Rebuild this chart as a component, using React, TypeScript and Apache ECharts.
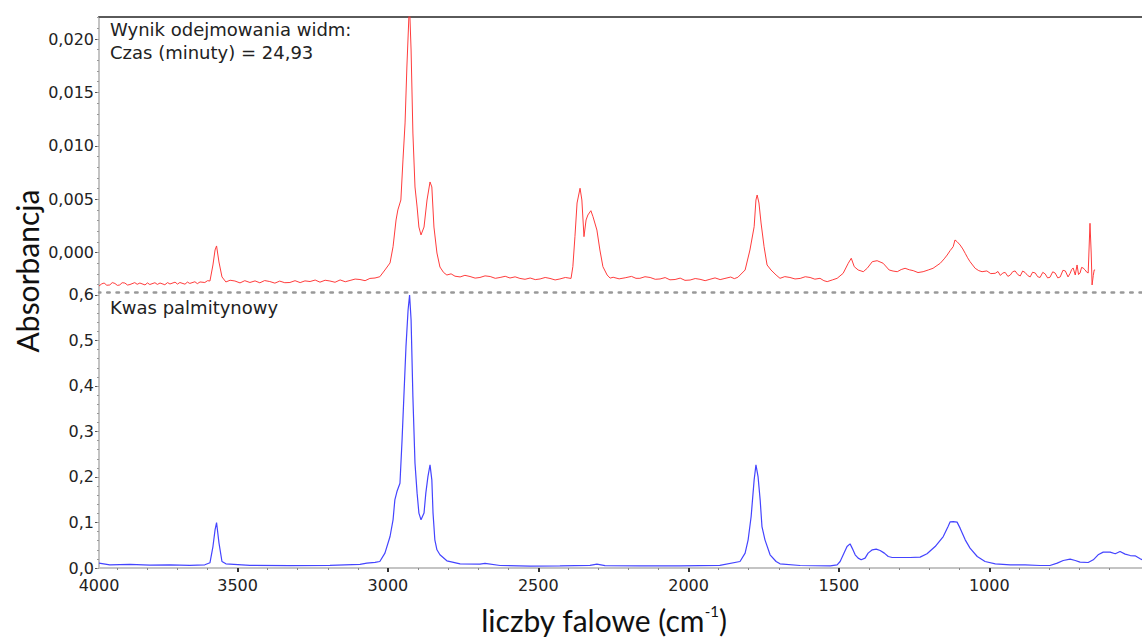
import { useEffect, useRef } from "react";
import * as echarts from "echarts";

// Wavenumber range shown (left edge labelled "4000" in the original), right edge
const X_LEFT = 3961;
const X_RIGHT = 492;
const X_EDGE_LABEL = "4000";
const xMajorTicks = [3500, 3000, 2500, 2000, 1500, 1000];

// Upper panel: subtraction result
const topYMin = -0.00368;
const topYMax = 0.02206;
const topYTicks = [0, 0.005, 0.01, 0.015, 0.02];

// Lower panel: palmitic acid
const botYMin = 0;
const botYMax = 0.6065;
const botYTicks = [0, 0.1, 0.2, 0.3, 0.4, 0.5, 0.6];

const redSpectrum: [number, number][] = [
  [3961, -0.00312], [3952, -0.00292], [3944, -0.00284], [3935, -0.00305], [3925, -0.00302],
  [3917, -0.0028], [3908, -0.00288], [3900, -0.00306], [3892, -0.00302], [3884, -0.00281],
  [3875, -0.00284], [3866, -0.00303], [3858, -0.00298], [3842, -0.0028], [3834, -0.00296],
  [3825, -0.00284], [3808, -0.00302], [3800, -0.00283], [3792, -0.00298], [3775, -0.00281],
  [3767, -0.00297], [3758, -0.00284], [3742, -0.003], [3733, -0.0028], [3725, -0.00293],
  [3708, -0.00276], [3700, -0.00294], [3692, -0.00279], [3675, -0.00295], [3667, -0.00275],
  [3659, -0.00288], [3642, -0.00272], [3634, -0.0029], [3625, -0.00274], [3609, -0.00279],
  [3600, -0.00262], [3592, -0.00265], [3582, -0.00115], [3575, 0.00025], [3570, 0.00063],
  [3562, -0.00087], [3552, -0.00227], [3539, -0.00274], [3525, -0.00258], [3509, -0.00265],
  [3492, -0.00283], [3476, -0.00262], [3459, -0.00279], [3442, -0.00264], [3426, -0.00282],
  [3410, -0.00261], [3393, -0.0027], [3376, -0.00285], [3360, -0.00266], [3343, -0.00281],
  [3326, -0.00279], [3309, -0.00262], [3292, -0.0028], [3276, -0.00264], [3259, -0.0027],
  [3242, -0.00256], [3226, -0.00276], [3209, -0.00258], [3193, -0.00265], [3176, -0.00277],
  [3159, -0.00255], [3142, -0.00272], [3126, -0.0026], [3109, -0.00247], [3093, -0.00251],
  [3076, -0.00262], [3060, -0.00241], [3043, -0.00237], [3027, -0.00225], [3010, -0.00162],
  [2993, -0.00096], [2983, 0.00056], [2973, 0.00306], [2967, 0.004], [2957, 0.00493],
  [2950, 0.00868], [2943, 0.01214], [2937, 0.01738], [2930, 0.0223], [2927, 0.0222],
  [2923, 0.01897], [2917, 0.0112], [2910, 0.00615], [2903, 0.00428], [2897, 0.0024],
  [2890, 0.00166], [2880, 0.0024], [2870, 0.00493], [2860, 0.00662], [2854, 0.00615],
  [2847, 0.0024], [2837, -0.00003], [2827, -0.00134], [2815, -0.00185], [2804, -0.00209],
  [2790, -0.00198], [2777, -0.0022], [2760, -0.00227], [2744, -0.00212], [2727, -0.00223],
  [2710, -0.00238], [2694, -0.00232], [2677, -0.00217], [2660, -0.00223], [2643, -0.0024],
  [2627, -0.00232], [2610, -0.00221], [2594, -0.00237], [2577, -0.00226], [2561, -0.00241],
  [2544, -0.00249], [2527, -0.00237], [2510, -0.00252], [2494, -0.00246], [2477, -0.00232],
  [2461, -0.00241], [2444, -0.00255], [2428, -0.00246], [2410, -0.00232], [2391, -0.00241],
  [2385, -0.00131], [2378, 0.0015], [2371, 0.00465], [2361, 0.00603], [2355, 0.00493],
  [2348, 0.0015], [2341, 0.00306], [2335, 0.00353], [2325, 0.00393], [2318, 0.00337],
  [2305, 0.00212], [2295, 0.00025], [2285, -0.00131], [2271, -0.00209], [2261, -0.00238],
  [2251, -0.0023], [2231, -0.00245], [2211, -0.00235], [2190, -0.00222], [2175, -0.0024],
  [2162, -0.0024], [2145, -0.00225], [2128, -0.00232], [2111, -0.00249], [2095, -0.00246],
  [2078, -0.00233], [2062, -0.00254], [2045, -0.00251], [2028, -0.00238], [2012, -0.00259],
  [1995, -0.00256], [1978, -0.00242], [1962, -0.00249], [1945, -0.00262], [1929, -0.00249],
  [1912, -0.00236], [1895, -0.00252], [1879, -0.00241], [1860, -0.00228], [1848, -0.00243],
  [1836, -0.0023], [1812, -0.00162], [1796, 0.00025], [1782, 0.00243], [1776, 0.00493],
  [1772, 0.0054], [1766, 0.00465], [1759, 0.00278], [1749, 0.00056], [1739, -0.00115],
  [1726, -0.00162], [1709, -0.00209], [1696, -0.0024], [1680, -0.00224], [1663, -0.00232],
  [1646, -0.00246], [1629, -0.00241], [1612, -0.00225], [1596, -0.00232], [1580, -0.00248],
  [1563, -0.0024], [1550, -0.00262], [1539, -0.00271], [1522, -0.00255], [1506, -0.0024],
  [1486, -0.00193], [1469, -0.00099], [1459, -0.00052], [1449, -0.00131], [1436, -0.00162],
  [1419, -0.00178], [1406, -0.00146], [1389, -0.00084], [1373, -0.00075], [1353, -0.00099],
  [1333, -0.00162], [1320, -0.00172], [1306, -0.00178], [1293, -0.00158], [1280, -0.00146],
  [1266, -0.0016], [1253, -0.00168], [1237, -0.00186], [1220, -0.00178], [1203, -0.00162],
  [1187, -0.00146], [1163, -0.00099], [1150, -0.00058], [1140, -0.00022], [1130, 0.0002],
  [1120, 0.00056], [1114, 0.00119], [1107, 0.00103], [1097, 0.00072], [1088, 0.00035],
  [1080, -0.00006], [1072, -0.00048], [1064, -0.00084], [1047, -0.00146], [1035, -0.00168],
  [1024, -0.00178], [1008, -0.00171], [995, -0.00196], [980, -0.00193], [971, -0.00176],
  [963, -0.00213], [955, -0.0019], [947, -0.00185], [938, -0.00222], [930, -0.00209],
  [922, -0.00178], [914, -0.00171], [905, -0.00205], [897, -0.00218], [889, -0.00172],
  [881, -0.00185], [872, -0.00214], [864, -0.00227], [856, -0.00183], [847, -0.0019],
  [839, -0.00225], [831, -0.00232], [822, -0.00184], [814, -0.00199], [806, -0.00236],
  [798, -0.0023], [789, -0.00179], [781, -0.0019], [772, -0.00236], [764, -0.00227],
  [755, -0.00165], [747, -0.00171], [738, -0.00227], [731, -0.00193], [726, -0.00158],
  [721, -0.00143], [714, -0.00209], [708, -0.00115], [703, -0.00205], [698, -0.0019],
  [693, -0.00138], [688, -0.00143], [681, -0.00162], [676, -0.00182], [671, -0.0019],
  [665, 0.00275], [661, -0.00003], [658, -0.00302], [654, -0.00212], [651, -0.00162],
  [648, -0.00162],
];

const blueSpectrum: [number, number][] = [
  [3961, 0.0108], [3925, 0.007], [3858, 0.0081], [3792, 0.0064], [3725, 0.007],
  [3659, 0.0059], [3609, 0.007], [3592, 0.0114], [3582, 0.0472], [3575, 0.0839],
  [3570, 0.0999], [3562, 0.0553], [3552, 0.0143], [3539, 0.0092], [3459, 0.0059],
  [3326, 0.0053], [3193, 0.0059], [3093, 0.0081], [3070, 0.0108], [3043, 0.0125],
  [3027, 0.0143], [3010, 0.0327], [2993, 0.0692], [2983, 0.1058], [2977, 0.1498],
  [2970, 0.168], [2960, 0.1864], [2953, 0.2815], [2947, 0.3766], [2940, 0.4864],
  [2933, 0.567], [2928, 0.5999], [2923, 0.545], [2917, 0.3766], [2910, 0.2303],
  [2903, 0.1645], [2897, 0.1206], [2890, 0.1058], [2880, 0.1206], [2874, 0.1645],
  [2867, 0.2009], [2860, 0.2266], [2854, 0.1937], [2850, 0.1206], [2844, 0.0619],
  [2837, 0.04], [2827, 0.029], [2804, 0.0158], [2760, 0.0092], [2694, 0.0086],
  [2677, 0.0103], [2627, 0.0055], [2527, 0.0042], [2428, 0.0048], [2328, 0.0059],
  [2305, 0.0086], [2278, 0.0053], [2162, 0.0048], [2029, 0.0048], [1896, 0.0059],
  [1829, 0.0143], [1812, 0.0327], [1802, 0.0619], [1792, 0.1131], [1782, 0.1937],
  [1776, 0.2266], [1769, 0.2009], [1762, 0.1498], [1756, 0.0911], [1746, 0.0619],
  [1729, 0.029], [1709, 0.0143], [1696, 0.0092], [1629, 0.0055], [1529, 0.0048],
  [1506, 0.007], [1496, 0.0143], [1483, 0.0327], [1473, 0.0472], [1463, 0.0531],
  [1456, 0.0437], [1446, 0.029], [1436, 0.0217], [1426, 0.018], [1413, 0.0217],
  [1403, 0.0327], [1389, 0.04], [1376, 0.0415], [1363, 0.0384], [1349, 0.0327],
  [1336, 0.0253], [1323, 0.0231], [1296, 0.0231], [1263, 0.0231], [1230, 0.0239],
  [1207, 0.0312], [1180, 0.0472], [1153, 0.0692], [1137, 0.0911], [1130, 0.1014],
  [1120, 0.1021], [1107, 0.1008], [1097, 0.0876], [1080, 0.0619], [1064, 0.0437],
  [1040, 0.0253], [1014, 0.0143], [980, 0.0092], [930, 0.007], [881, 0.007],
  [831, 0.0055], [798, 0.0055], [774, 0.0108], [754, 0.0165], [731, 0.0195],
  [714, 0.0165], [698, 0.013], [671, 0.0121], [654, 0.018], [638, 0.029],
  [621, 0.0349], [598, 0.0349], [581, 0.0312], [565, 0.0362], [548, 0.0305],
  [531, 0.0274], [515, 0.0268], [498, 0.0202], [492, 0.018],
];

const topTitle1 = "Wynik odejmowania widm:";
const topTitle2 = "Czas (minuty) = 24,93";
const bottomTitle = "Kwas palmitynowy";
const yTitle = "Absorbancja";

const TICK_FONT = "DejaVu Sans";
const TITLE_FONT = "Lato";

function rangeSteps(from: number, to: number, step: number): number[] {
  const out: number[] = [];
  const n = Math.round((to - from) / step);
  for (let i = 0; i <= n; i++) out.push(+(from + i * step).toFixed(6));
  return out;
}

const xMinorTicks = rangeSteps(500, 3900, 100).filter((v) => v % 500 !== 0);
const topYMinor = rangeSteps(-0.003, 0.022, 0.001);
const botYMinor = rangeSteps(0, 0.6, 0.02);

const comma = (v: number, d: number) => v.toFixed(d).replace(".", ",");

function buildOption(): any {
  const baseX = {
    type: "value",
    min: X_RIGHT,
    max: X_LEFT,
    inverse: true,
    splitLine: { show: false },
  };
  return {
    animation: false,
    backgroundColor: "#ffffff",
    grid: [
      { left: 99, right: 0, top: 17, height: 275 },
      { left: 99, right: 0, top: 292, height: 276 },
    ],
    xAxis: [
      {
        ...baseX,
        gridIndex: 0,
        position: "bottom",
        axisLine: { show: true, onZero: false, lineStyle: { color: "#999999", width: 2.5, type: [2.5, 6.8] } },
        axisTick: { show: false },
        axisLabel: { show: false },
      },
      {
        ...baseX,
        gridIndex: 0,
        position: "top",
        axisLine: { show: true, onZero: false, lineStyle: { color: "#5a5a5a", width: 2 } },
        axisTick: { show: false },
        axisLabel: { show: false },
      },
      {
        ...baseX,
        gridIndex: 1,
        position: "bottom",
        axisLine: { show: true, onZero: false, lineStyle: { color: "#c4c4c4", width: 2 } },
        axisTick: {
          show: true,
          customValues: xMajorTicks,
          length: 4,
          lineStyle: { color: "#333", width: 2 },
        },
        axisLabel: {
          show: true,
          customValues: [X_LEFT, ...xMajorTicks],
          formatter: (v: number) => (v === X_LEFT ? X_EDGE_LABEL : String(v)),
          color: "#222",
          fontFamily: TICK_FONT,
          fontSize: 16,
          margin: 9,
        },
      },
      {
        ...baseX,
        gridIndex: 1,
        position: "bottom",
        axisLine: { show: false, onZero: false },
        axisTick: {
          show: true,
          customValues: xMinorTicks,
          length: 2,
          lineStyle: { color: "#888", width: 1 },
        },
        axisLabel: { show: false },
      },
    ],
    yAxis: [
      {
        type: "value",
        gridIndex: 0,
        position: "left",
        min: topYMin,
        max: topYMax,
        splitLine: { show: false },
        axisLine: { show: true, onZero: false, lineStyle: { color: "#c4c4c4", width: 2 } },
        axisTick: { show: true, customValues: topYTicks, length: 4, lineStyle: { color: "#555" } },
        axisLabel: {
          show: true,
          customValues: topYTicks,
          formatter: (v: number) => comma(v, 3),
          color: "#222",
          fontFamily: TICK_FONT,
          fontSize: 16,
          margin: 5,
        },
      },
      {
        type: "value",
        gridIndex: 0,
        position: "left",
        min: topYMin,
        max: topYMax,
        splitLine: { show: false },
        axisLine: { show: false, onZero: false },
        axisTick: { show: true, customValues: topYMinor, length: 2, lineStyle: { color: "#999" } },
        axisLabel: { show: false },
      },
      {
        type: "value",
        gridIndex: 1,
        position: "left",
        min: botYMin,
        max: botYMax,
        splitLine: { show: false },
        axisLine: { show: true, onZero: false, lineStyle: { color: "#c4c4c4", width: 2 } },
        axisTick: { show: true, customValues: botYTicks, length: 4, lineStyle: { color: "#555" } },
        axisLabel: {
          show: true,
          customValues: botYTicks,
          formatter: (v: number) => comma(v, 1),
          color: "#222",
          fontFamily: TICK_FONT,
          fontSize: 16,
          margin: 5,
        },
      },
      {
        type: "value",
        gridIndex: 1,
        position: "left",
        min: botYMin,
        max: botYMax,
        splitLine: { show: false },
        axisLine: { show: false, onZero: false },
        axisTick: { show: true, customValues: botYMinor, length: 2, lineStyle: { color: "#999" } },
        axisLabel: { show: false },
      },
    ],
    series: [
      {
        name: "Wynik odejmowania widm",
        type: "line",
        xAxisIndex: 0,
        yAxisIndex: 0,
        data: redSpectrum,
        showSymbol: false,
        clip: true,
        lineStyle: { color: "#ff3c3c", width: 1 },
      },
      {
        name: "Kwas palmitynowy",
        type: "line",
        xAxisIndex: 2,
        yAxisIndex: 2,
        data: blueSpectrum,
        showSymbol: false,
        clip: true,
        lineStyle: { color: "#4444ff", width: 1.2 },
      },
    ],
    graphic: [
      {
        type: "text",
        x: 110,
        y: 20,
        style: { text: topTitle1, font: `18px '${TICK_FONT}'`, fill: "#222" },
      },
      {
        type: "text",
        x: 110,
        y: 43,
        style: { text: topTitle2, font: `18px '${TICK_FONT}'`, fill: "#222" },
      },
      {
        type: "text",
        x: 110,
        y: 298,
        style: { text: bottomTitle, font: `18px '${TICK_FONT}'`, fill: "#222" },
      },
      {
        type: "text",
        x: 27,
        y: 271,
        rotation: Math.PI / 2,
        style: {
          text: yTitle,
          font: `30px '${TITLE_FONT}'`,
          fill: "#111",
          align: "center",
          verticalAlign: "middle",
        },
      },
      {
        type: "text",
        x: 604,
        y: 620,
        style: {
          text: "{a|liczby falowe (cm}{s|-1}{a|)}",
          align: "center",
          verticalAlign: "middle",
          fill: "#111",
          rich: {
            a: { fontFamily: TITLE_FONT, fontSize: 30, lineHeight: 34, fill: "#111" },
            s: { fontFamily: TITLE_FONT, fontSize: 15, lineHeight: 34, verticalAlign: "top", fill: "#111" },
          },
        },
      },
    ],
  };
}

export default function App() {
  const ref = useRef<HTMLDivElement>(null);
  useEffect(() => {
    if (!ref.current) return;
    const chart = echarts.init(ref.current, null, { renderer: "svg" });
    chart.setOption(buildOption());
    return () => chart.dispose();
  }, []);
  return (
    <div
      ref={ref}
      style={{ position: "fixed", left: 0, top: 0, width: 1142, height: 637, background: "#fff" }}
    />
  );
}
